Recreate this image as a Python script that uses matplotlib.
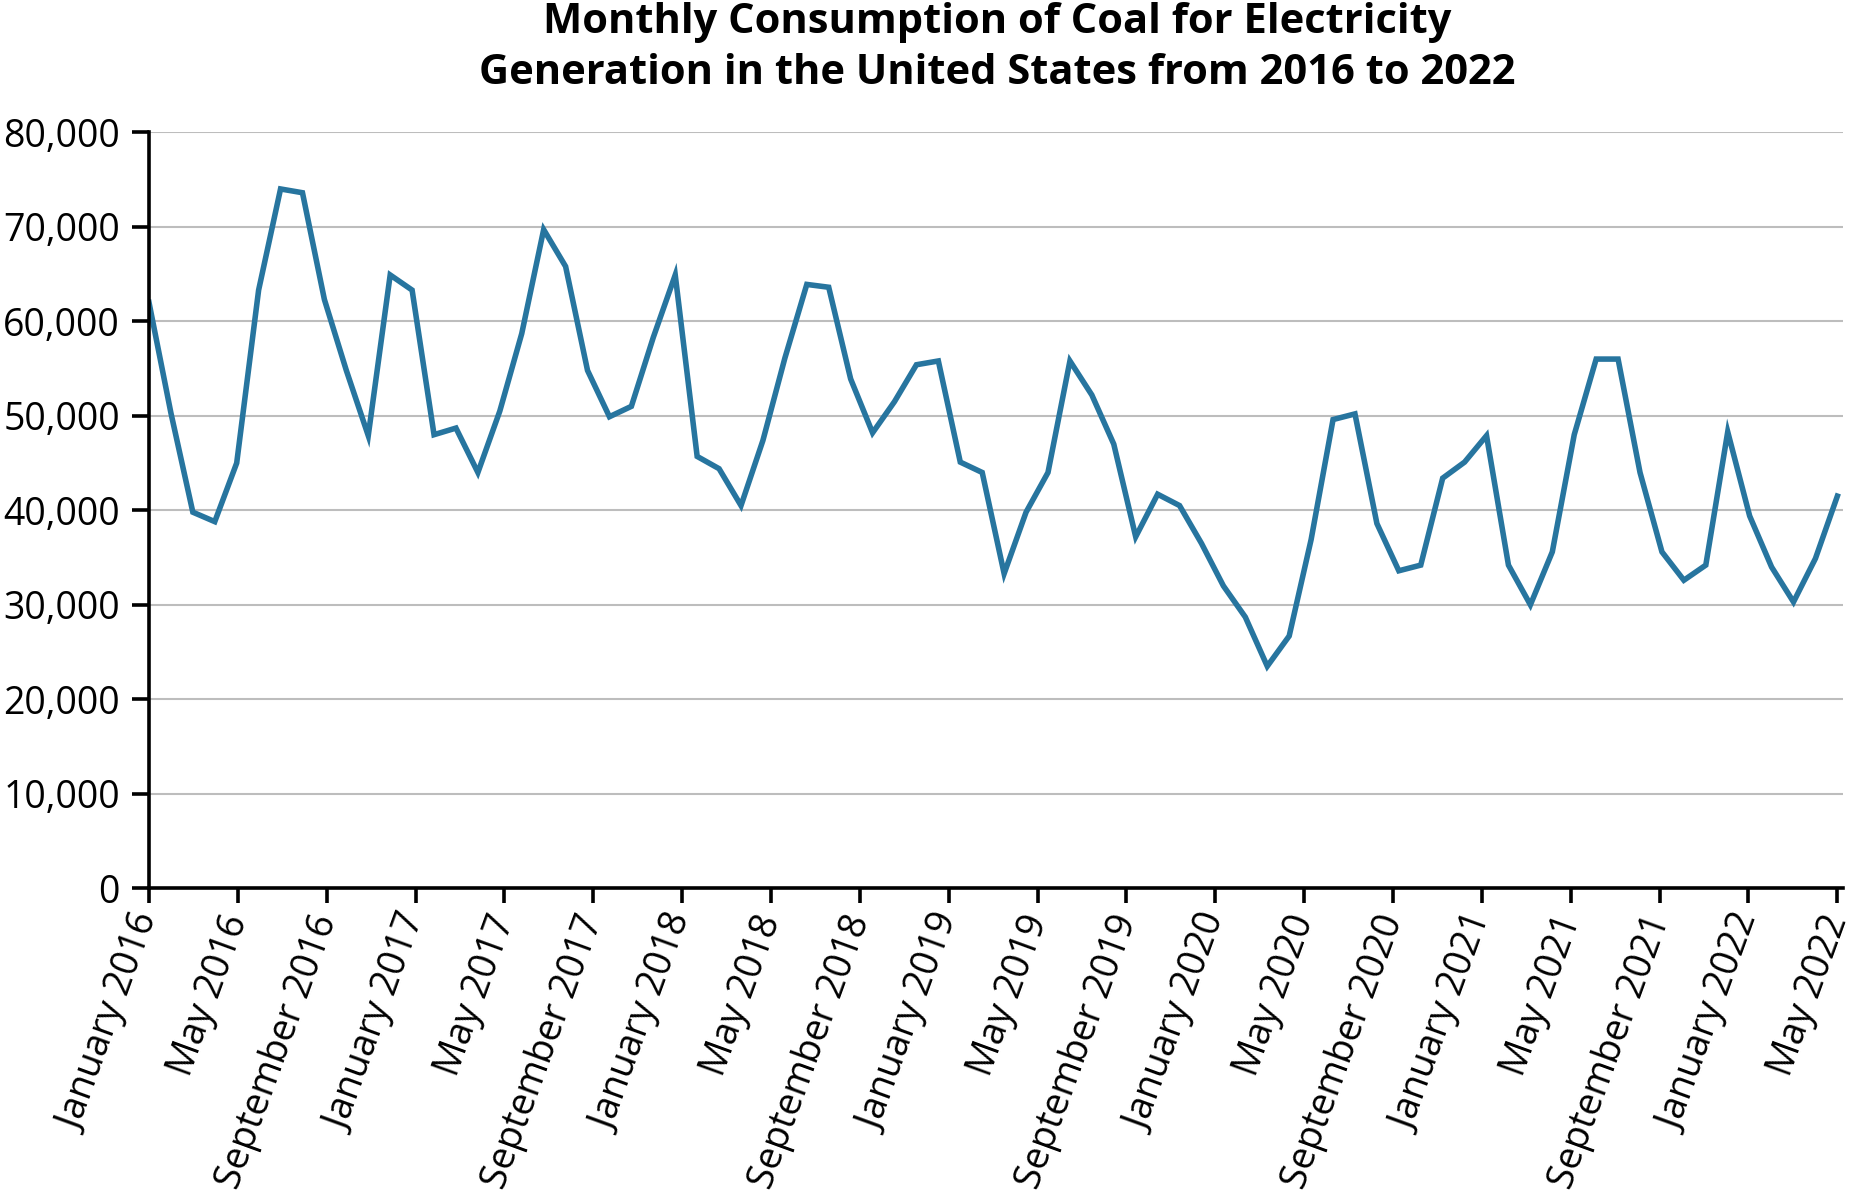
import numpy as np
import matplotlib.pyplot as plt
from matplotlib.ticker import FuncFormatter

plt.rcParams['font.family'] = ['Open Sans', 'DejaVu Sans']

# monthly coal consumption (thousand short tons)
coal = [62000, 50300, 39800, 38800, 45000, 63300, 74000, 73600, 62300, 54800,
        47900, 64900, 63300, 48000, 48700, 44000, 50500, 58700, 69700, 65800,
        54800, 49900, 51000, 58300, 64900, 45700, 44400, 40500, 47400, 56100,
        63900, 63600, 53900, 48200, 51500, 55400, 55800, 45100, 44000, 33300,
        39800, 44000, 55800, 52200, 47000, 37200, 41700, 40500, 36500, 32000,
        28700, 23500, 26700, 36900, 49600, 50200, 38600, 33600, 34200, 43400,
        45100, 47900, 34200, 30000, 35600, 48000, 56000, 56000, 44000, 35600,
        32600, 34200, 48300, 39400, 34000, 30300, 34900, 41500]

tick_labels = ["January 2016", "May 2016", "September 2016",
               "January 2017", "May 2017", "September 2017",
               "January 2018", "May 2018", "September 2018",
               "January 2019", "May 2019", "September 2019",
               "January 2020", "May 2020", "September 2020",
               "January 2021", "May 2021", "September 2021",
               "January 2022", "May 2022"]

y_ticks = [0, 10000, 20000, 30000, 40000, 50000, 60000, 70000, 80000]

# the line runs from the first tick to the last one
last = (len(tick_labels) - 1) * 4
x = np.linspace(0, last, len(coal))
tick_pos = np.arange(0, last + 1, 4)

fig = plt.figure(figsize=(18.67, 11.99), dpi=100)
ax = fig.add_axes([0.0798, 0.2591, 0.9073, 0.6306])

ax.plot(x, coal, color='#27759f', linewidth=4.0, solid_joinstyle='miter')

ax.set_xlim(0, last + 0.25)
ax.set_ylim(0, 80000)
ax.set_yticks(y_ticks)
ax.yaxis.set_major_formatter(FuncFormatter(lambda v, p: f"{int(v):,}"))
ax.set_xticks(tick_pos)
ax.set_xticklabels(tick_labels, rotation=70, ha='right', va='center',
                   rotation_mode='anchor')

ax.grid(axis='y', color='#bdbdbd', linewidth=1.5)
ax.set_axisbelow(True)
for s in ['top', 'right']:
    ax.spines[s].set_visible(False)
for s in ['left', 'bottom']:
    ax.spines[s].set_linewidth(2.6)
    ax.spines[s].set_zorder(5)

ax.tick_params(axis='y', length=12, width=2.6, pad=9, labelsize=27)
ax.tick_params(axis='x', length=11, width=2.6, pad=9, labelsize=27)

fig.text(0.534, 0.998, "Monthly Consumption of Coal for Electricity\n"
         "Generation in the United States from 2016 to 2022",
         ha='center', va='top', fontsize=30, fontweight='bold', linespacing=1.3)

fig.savefig("out.png", dpi=100)
